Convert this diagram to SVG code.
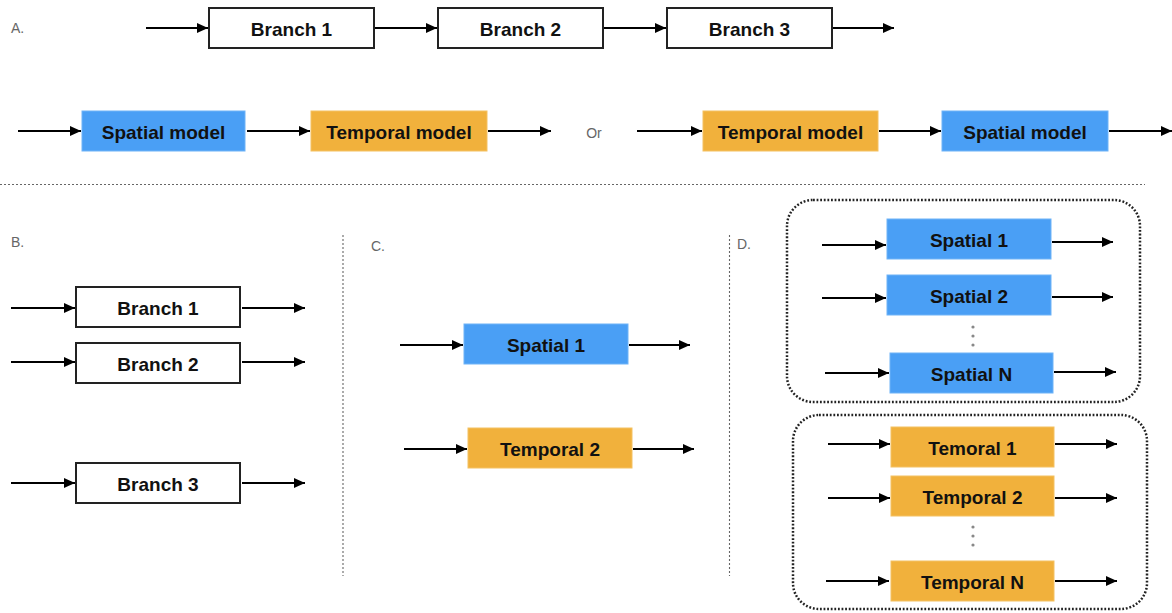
<svg xmlns="http://www.w3.org/2000/svg" width="1172" height="613" viewBox="0 0 1172 613">
  <defs>
    <marker id="arrow" markerUnits="userSpaceOnUse" markerWidth="13" markerHeight="11" refX="11" refY="5.5" orient="auto">
      <path d="M0,0.5 L11,5.5 L0,10.5 z" fill="#000"/>
    </marker>
    <style>
      .lbl { font-family: "Liberation Sans", Arial, sans-serif; font-size: 19px; font-weight: bold; fill: #111; text-anchor: middle; dominant-baseline: central; }
      .tag { font-family: "Liberation Sans", Arial, sans-serif; font-size: 14px; fill: #666; dominant-baseline: central; }
      .plain { fill: #fff; stroke: #222; stroke-width: 2; }
      .blue { fill: #4A9FF5; stroke: #6FB3F7; stroke-width: 1; }
      .orange { fill: #F1B13C; stroke: #F4C162; stroke-width: 1; }
      .conn line { stroke: #000; stroke-width: 2; marker-end: url(#arrow); }
      .sep { stroke: #666; stroke-width: 1.1; stroke-dasharray: 2 2; fill: none; }
      .group { fill: none; stroke: #222; stroke-width: 2.5; stroke-dasharray: 1.8 1.8; }
      .dot { fill: #888; }
    </style>
  </defs>
  <rect width="1172" height="613" fill="#fff"/>

  <!-- section separators -->
  <g id="separators">
    <line class="sep" x1="0" y1="184.5" x2="1145" y2="184.5"/>
    <line class="sep" x1="343" y1="235" x2="343" y2="576"/>
    <line class="sep" x1="729.5" y1="235" x2="729.5" y2="576"/>
  </g>

  <!-- section tags -->
  <g id="tags">
    <text class="tag" x="11" y="28">A.</text>
    <text class="tag" x="11" y="242">B.</text>
    <text class="tag" x="371" y="246">C.</text>
    <text class="tag" x="737" y="244">D.</text>
    <text class="tag" x="594" y="133" text-anchor="middle">Or</text>
  </g>

  <!-- D. grouping frames -->
  <g id="frame-spatial"><rect class="group" x="787" y="200" width="353" height="202" rx="26"/></g>
  <g id="frame-temporal"><rect class="group" x="793" y="415" width="354" height="194" rx="26"/></g>

  <!-- A. sequential branches -->
  <g id="a-branch1"><rect class="plain" x="209" y="8" width="165" height="40"/><text class="lbl" x="291.5" y="29">Branch 1</text></g>
  <g id="a-branch2"><rect class="plain" x="438" y="8" width="165" height="40"/><text class="lbl" x="520.5" y="29">Branch 2</text></g>
  <g id="a-branch3"><rect class="plain" x="667" y="8" width="165" height="40"/><text class="lbl" x="749.5" y="29">Branch 3</text></g>

  <!-- A. spatial-temporal orderings -->
  <g id="a-spatial-left"><rect class="blue" x="82" y="111" width="163" height="40"/><text class="lbl" x="163.5" y="132">Spatial model</text></g>
  <g id="a-temporal-left"><rect class="orange" x="311" y="111" width="176" height="40"/><text class="lbl" x="399" y="132">Temporal model</text></g>
  <g id="a-temporal-right"><rect class="orange" x="703" y="111" width="175" height="40"/><text class="lbl" x="790.5" y="132">Temporal model</text></g>
  <g id="a-spatial-right"><rect class="blue" x="942" y="111" width="166" height="40"/><text class="lbl" x="1025" y="132">Spatial model</text></g>

  <!-- B. parallel branches -->
  <g id="b-branch1"><rect class="plain" x="76" y="287" width="164" height="40"/><text class="lbl" x="158" y="308">Branch 1</text></g>
  <g id="b-branch2"><rect class="plain" x="76" y="343" width="164" height="40"/><text class="lbl" x="158" y="364">Branch 2</text></g>
  <g id="b-branch3"><rect class="plain" x="76" y="463" width="164" height="40"/><text class="lbl" x="158" y="484">Branch 3</text></g>

  <!-- C. separate models -->
  <g id="c-spatial1"><rect class="blue" x="464" y="324" width="164" height="40"/><text class="lbl" x="546" y="345">Spatial 1</text></g>
  <g id="c-temporal2"><rect class="orange" x="468" y="428" width="164" height="40"/><text class="lbl" x="550" y="449">Temporal 2</text></g>

  <!-- D. stacked models -->
  <g id="d-spatial1"><rect class="blue" x="887" y="219" width="164" height="40"/><text class="lbl" x="969" y="240">Spatial 1</text></g>
  <g id="d-spatial2"><rect class="blue" x="887" y="275" width="164" height="40"/><text class="lbl" x="969" y="296">Spatial 2</text></g>
  <g id="d-spatialN"><rect class="blue" x="890" y="353" width="163" height="40"/><text class="lbl" x="971.5" y="374">Spatial N</text></g>
  <g id="d-spatial-dots"><circle class="dot" cx="973" cy="327" r="1.6"/><circle class="dot" cx="973" cy="336" r="1.6"/><circle class="dot" cx="973" cy="345" r="1.6"/></g>

  <g id="d-temporal1"><rect class="orange" x="891" y="427" width="163" height="40"/><text class="lbl" x="972.5" y="448">Temoral 1</text></g>
  <g id="d-temporal2"><rect class="orange" x="891" y="476" width="163" height="40"/><text class="lbl" x="972.5" y="497">Temporal 2</text></g>
  <g id="d-temporalN"><rect class="orange" x="891" y="561" width="163" height="40"/><text class="lbl" x="972.5" y="582">Temporal N</text></g>
  <g id="d-temporal-dots"><circle class="dot" cx="973" cy="527" r="1.6"/><circle class="dot" cx="973" cy="536" r="1.6"/><circle class="dot" cx="973" cy="545" r="1.6"/></g>

  <!-- connectors -->
  <g id="connectors" class="conn">
    <!-- A top row -->
    <line x1="146" y1="28" x2="208" y2="28"/>
    <line x1="375" y1="28" x2="437" y2="28"/>
    <line x1="604" y1="28" x2="666" y2="28"/>
    <line x1="833" y1="28" x2="894" y2="28"/>
    <!-- A bottom row -->
    <line x1="18" y1="131" x2="81" y2="131"/>
    <line x1="247" y1="131" x2="310" y2="131"/>
    <line x1="488" y1="131" x2="551" y2="131"/>
    <line x1="637" y1="131" x2="702" y2="131"/>
    <line x1="879" y1="131" x2="941" y2="131"/>
    <line x1="1109" y1="131" x2="1172" y2="131"/>
    <!-- B -->
    <line x1="11" y1="308" x2="75" y2="308"/>
    <line x1="242" y1="308" x2="305" y2="308"/>
    <line x1="11" y1="362" x2="75" y2="362"/>
    <line x1="242" y1="362" x2="305" y2="362"/>
    <line x1="11" y1="483" x2="75" y2="483"/>
    <line x1="242" y1="483" x2="305" y2="483"/>
    <!-- C -->
    <line x1="400" y1="345" x2="463" y2="345"/>
    <line x1="629" y1="345" x2="690" y2="345"/>
    <line x1="404" y1="449" x2="467" y2="449"/>
    <line x1="633" y1="449" x2="694" y2="449"/>
    <!-- D spatial -->
    <line x1="822" y1="245" x2="886" y2="245"/>
    <line x1="1052" y1="242" x2="1113" y2="242"/>
    <line x1="822" y1="298" x2="886" y2="298"/>
    <line x1="1052" y1="297" x2="1113" y2="297"/>
    <line x1="825" y1="373" x2="889" y2="373"/>
    <line x1="1054" y1="372" x2="1116" y2="372"/>
    <!-- D temporal -->
    <line x1="828" y1="444" x2="890" y2="444"/>
    <line x1="1055" y1="444" x2="1117" y2="444"/>
    <line x1="828" y1="498" x2="890" y2="498"/>
    <line x1="1055" y1="498" x2="1117" y2="498"/>
    <line x1="826" y1="581" x2="889" y2="581"/>
    <line x1="1055" y1="581" x2="1117" y2="581"/>
  </g>
</svg>
